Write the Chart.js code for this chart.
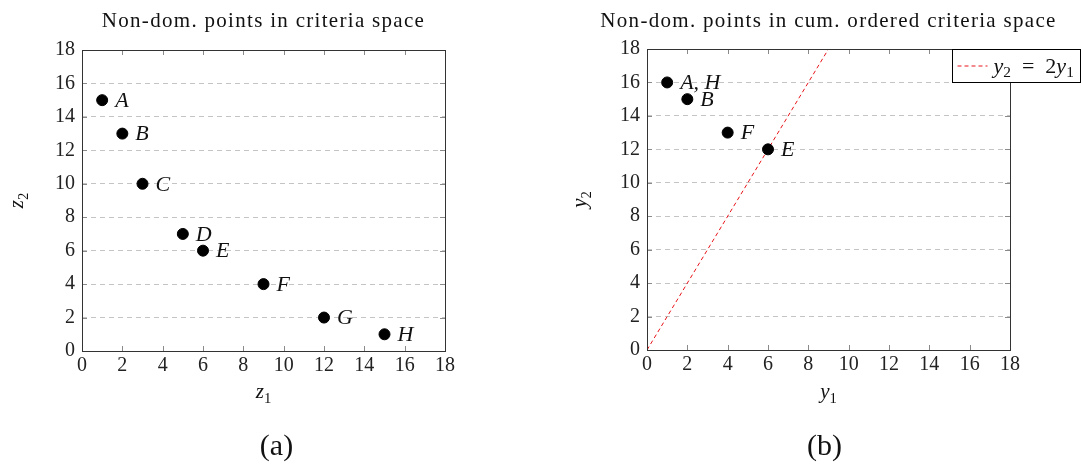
<!DOCTYPE html>
<html>
<head>
<meta charset="utf-8">
<script src="https://cdn.jsdelivr.net/npm/chart.js@4.4.1/dist/chart.umd.min.js"></script>
<style>
  html, body { margin: 0; padding: 0; background: #fff; }
  #wrap { position: relative; width: 1081px; height: 464px; overflow: hidden; }
  .box { position: absolute; top: 0; height: 464px; }
</style>
</head>
<body>
<div id="wrap">
  <div class="box" style="left:0;width:540px"><canvas id="chartA" width="540" height="464"></canvas></div>
  <div class="box" style="left:540px;width:541px"><canvas id="chartB" width="541" height="464"></canvas></div>
</div>
<script>
// Achsen (beide Diagramme 0..18, Schritt 2)
const axisTicks = [0, 2, 4, 6, 8, 10, 12, 14, 16, 18];

// (a) Punkte im Kriterienraum
const namesA = ['A', 'B', 'C', 'D', 'E', 'F', 'G', 'H'];
const z1 = [1, 2, 3, 5, 6, 9, 12, 15];
const z2 = [15, 13, 10, 7, 6, 4, 2, 1];

// (b) Punkte im kumulierten Raum
const namesB = ['A, H', 'B', 'F', 'E'];
const y1 = [1, 2, 4, 6];
const y2 = [16, 15, 13, 12];

// Gerade y2 = 2 y1
const lineY1 = [0, 9];
const lineY2 = [0, 18];

const SERIF = '"Liberation Serif", "DejaVu Serif", serif';

// Text mit Index (kursiv / tiefgestellt)
function richWidth(ctx, parts, size) {
  let w = 0;
  parts.forEach(p => {
    ctx.font = (p.i ? 'italic ' : '') + (p.sub ? size * 0.7 : size) + 'px ' + SERIF;
    w += ctx.measureText(p.t).width;
  });
  return w;
}
function drawRich(ctx, parts, x, y, size, align) {
  let cx = align === 'center' ? x - richWidth(ctx, parts, size) / 2 : x;
  ctx.textAlign = 'left';
  ctx.textBaseline = 'alphabetic';
  parts.forEach(p => {
    ctx.font = (p.i ? 'italic ' : '') + (p.sub ? size * 0.7 : size) + 'px ' + SERIF;
    ctx.fillText(p.t, cx, p.sub ? y + size * 0.22 : y);
    cx += ctx.measureText(p.t).width;
  });
}

const decor = {
  id: 'decor',
  afterDatasetsDraw(chart, args, o) {
    const ctx = chart.ctx;
    const a = chart.chartArea;
    const xs = chart.scales.x, ys = chart.scales.y;
    ctx.save();

    // innere Teilstriche
    ctx.strokeStyle = '#8a8a8a';
    ctx.lineWidth = 1;
    ctx.beginPath();
    axisTicks.forEach(v => {
      const px = Math.round(xs.getPixelForValue(v)) + 0.5;
      ctx.moveTo(px, a.bottom); ctx.lineTo(px, a.bottom - 5);
      ctx.moveTo(px, a.top); ctx.lineTo(px, a.top + 5);
      const py = Math.round(ys.getPixelForValue(v)) + 0.5;
      ctx.moveTo(a.left, py); ctx.lineTo(a.left + 5, py);
      ctx.moveTo(a.right, py); ctx.lineTo(a.right - 5, py);
    });
    ctx.stroke();

    // Rahmen
    ctx.strokeStyle = '#333';
    ctx.strokeRect(Math.round(a.left) + 0.5, Math.round(a.top) + 0.5,
      Math.round(a.right - a.left), Math.round(a.bottom - a.top));

    // Punktbeschriftungen
    ctx.fillStyle = '#111';
    chart.data.datasets.forEach((ds, di) => {
      if (!ds.names) return;
      chart.getDatasetMeta(di).data.forEach((el, i) => {
        ctx.font = 'italic 22px ' + SERIF;
        ctx.textAlign = 'left';
        ctx.textBaseline = 'middle';
        ctx.fillText(ds.names[i], el.x + 13, el.y + 1);
      });
    });

    // Titel, Achsentitel, Unterschrift
    const mid = (a.left + a.right) / 2;
    ctx.font = '21px ' + SERIF;
    ctx.letterSpacing = '1.3px';
    ctx.textAlign = 'center';
    ctx.textBaseline = 'alphabetic';
    ctx.fillText(o.title, mid + o.titleShift, 27);
    ctx.letterSpacing = '0px';
    drawRich(ctx, o.xTitle, mid, 398, 21, 'center');
    ctx.save();
    ctx.translate(o.yTitleX, (a.top + a.bottom) / 2);
    ctx.rotate(-Math.PI / 2);
    drawRich(ctx, o.yTitle, 0, 6, 21, 'center');
    ctx.restore();
    ctx.font = '30px ' + SERIF;
    ctx.textAlign = 'center';
    ctx.fillText(o.caption, mid + o.captionShift, 455);

    // Legende
    if (o.legend) {
      const bx = Math.round(a.right) - 58 + 0.5, by = Math.round(a.top) + 0.5;
      const bw = 128, bh = 33;
      ctx.fillStyle = '#fff';
      ctx.fillRect(bx, by, bw, bh);
      ctx.strokeStyle = '#000';
      ctx.strokeRect(bx, by, bw, bh);
      ctx.strokeStyle = '#e8151b';
      ctx.setLineDash([4, 3]);
      ctx.beginPath();
      ctx.moveTo(bx + 5, by + bh / 2);
      ctx.lineTo(bx + 35, by + bh / 2);
      ctx.stroke();
      ctx.setLineDash([]);
      ctx.fillStyle = '#111';
      drawRich(ctx, o.legend, bx + 41, by + 23, 22, 'left');
    }
    ctx.restore();
  }
};

function axes(yWidth) {
  const tickFont = { family: SERIF, size: 20 };
  return {
    x: {
      type: 'linear', min: 0, max: 18,
      afterBuildTicks: s => { s.ticks = axisTicks.map(v => ({ value: v })); },
      afterFit: s => { s.height = 30; },
      grid: { display: false, drawTicks: false },
      border: { display: false },
      ticks: { color: '#222', font: tickFont, padding: 3, maxRotation: 0 }
    },
    y: {
      type: 'linear', min: 0, max: 18,
      afterBuildTicks: s => { s.ticks = axisTicks.map(v => ({ value: v })); },
      afterFit: s => { s.width = yWidth; },
      grid: { color: '#c4c4c4', lineWidth: 1, drawTicks: false },
      border: { display: false, dash: [5, 4] },
      ticks: { color: '#222', font: tickFont, padding: 7 }
    }
  };
}

new Chart(document.getElementById('chartA'), {
  type: 'scatter',
  data: {
    datasets: [{
      label: 'Punkte',
      names: namesA,
      data: z1.map((v, i) => ({ x: v, y: z2[i] })),
      backgroundColor: '#000', borderColor: '#000',
      pointRadius: 5.5, pointHoverRadius: 5.5
    }]
  },
  options: {
    responsive: false, animation: false, devicePixelRatio: 1,
    layout: { padding: { top: 50, left: 0, right: 95, bottom: 83 } },
    scales: axes(82),
    plugins: {
      legend: { display: false }, tooltip: { enabled: false },
      decor: {
        title: 'Non-dom. points in criteria space', titleShift: 0,
        xTitle: [{ t: 'z', i: true }, { t: '1', sub: true }],
        yTitle: [{ t: 'z', i: true }, { t: '2', sub: true }],
        yTitleX: 17,
        caption: '(a)', captionShift: 13
      }
    }
  },
  plugins: [decor]
});

new Chart(document.getElementById('chartB'), {
  type: 'scatter',
  data: {
    datasets: [{
      label: 'Punkte',
      names: namesB,
      data: y1.map((v, i) => ({ x: v, y: y2[i] })),
      backgroundColor: '#000', borderColor: '#000',
      pointRadius: 5.5, pointHoverRadius: 5.5, order: 0
    }, {
      label: 'y2 = 2y1',
      type: 'line',
      data: lineY1.map((v, i) => ({ x: v, y: lineY2[i] })),
      borderColor: '#e8151b', borderWidth: 1, borderDash: [4, 3],
      pointRadius: 0, fill: false, order: 1
    }]
  },
  options: {
    responsive: false, animation: false, devicePixelRatio: 1,
    layout: { padding: { top: 49, left: 0, right: 71, bottom: 84 } },
    scales: axes(107),
    plugins: {
      legend: { display: false }, tooltip: { enabled: false },
      decor: {
        title: 'Non-dom. points in cum. ordered criteria space', titleShift: 0,
        xTitle: [{ t: 'y', i: true }, { t: '1', sub: true }],
        yTitle: [{ t: 'y', i: true }, { t: '2', sub: true }],
        yTitleX: 40,
        caption: '(b)', captionShift: -4,
        legend: [{ t: 'y', i: true }, { t: '2', sub: true }, { t: '  =  2' }, { t: 'y', i: true }, { t: '1', sub: true }]
      }
    }
  },
  plugins: [decor]
});
</script>
</body>
</html>
